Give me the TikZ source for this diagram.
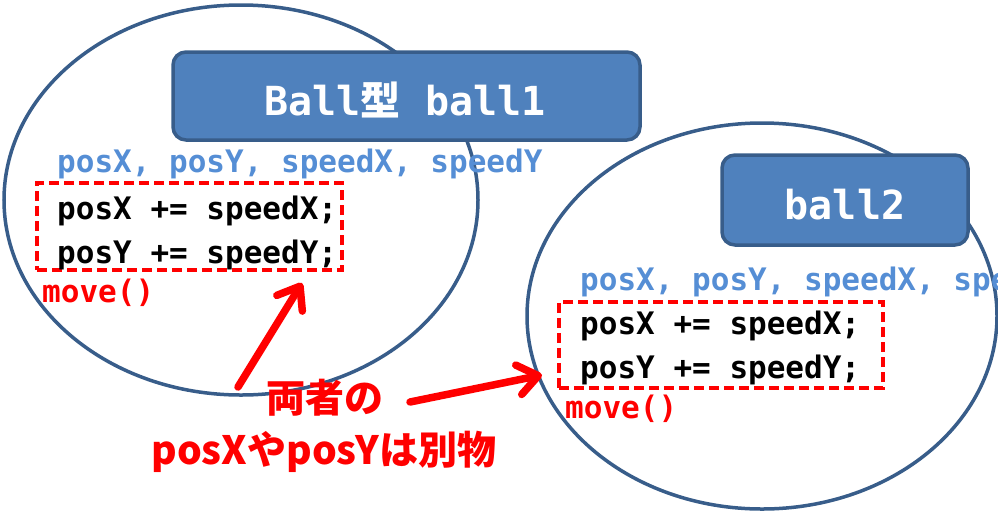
\documentclass[tikz,border=0pt]{standalone}
\usepackage{fontspec}
\newfontfamily\mono{DejaVu Sans Mono}
\newfontfamily\cjk{Noto Sans CJK JP}
\usetikzlibrary{shapes.geometric,arrows.meta}
\definecolor{objline}{HTML}{385D8A}
\definecolor{boxfill}{HTML}{4F81BD}
\definecolor{fieldblue}{HTML}{558ED5}
\definecolor{alertred}{HTML}{FF0000}
\begin{document}
\begin{tikzpicture}[x=1pt,y=-1pt,
  objshape/.style={ellipse, draw=objline, line width=3.5pt, inner sep=0pt},
  namebox/.style={rectangle, rounded corners=13pt, draw=objline, line width=3.5pt,
    fill=boxfill, inner sep=0pt},
  nametext/.style={text=white, font=\mono\bfseries\fontsize{40}{44}\selectfont,
    inner sep=0pt, anchor=base},
  fields/.style={text=fieldblue, font=\mono\bfseries\fontsize{31}{36}\selectfont,
    inner sep=0pt, anchor=base west},
  code/.style={text=black, font=\mono\bfseries\fontsize{31}{36}\selectfont,
    inner sep=0pt, anchor=base west},
  method/.style={text=alertred, font=\mono\bfseries\fontsize{31}{36}\selectfont,
    inner sep=0pt, anchor=base west},
  methodframe/.style={rectangle, draw=alertred, line width=3.5pt,
    dash pattern=on 10pt off 5pt, inner sep=0pt},
  note/.style={text=alertred, font=\cjk\bfseries\fontsize{39}{48}\selectfont,
    inner sep=0pt, anchor=base},
  pointer/.style={draw=alertred, line width=7.5pt, line cap=round,
    -{Straight Barb[round, length=20pt, width=30pt]}}
]
\useasboundingbox (0,0) rectangle (998,512);

% object ball1
\node[objshape, minimum width=474, minimum height=390] (obj1) at (241,200) {};
\node[namebox, minimum width=467, minimum height=88] (name1) at (406.5,96) {};
\node[nametext] (title1) at (405,115) {Ball{\cjk 型}{} ball1};
\node[fields] (fields1) at (57,172) {posX, posY, speedX, speedY};
\node[methodframe, minimum width=305, minimum height=87] (frame1) at (189.5,226.5) {};
\node[code] (code1a) at (57,219) {posX += speedX;};
\node[code] (code1b) at (57,263) {posY += speedY;};
\node[method] (move1) at (42,302) {move()};

% object ball2 (its field list runs past the right edge)
\node[objshape, minimum width=470, minimum height=386] (obj2) at (762,316) {};
\node[namebox, minimum width=246, minimum height=90] (name2) at (845,200) {};
\node[nametext] (title2) at (845,219) {ball2};
\node[fields] (fields2) at (580,290) {posX, posY, speedX, speedY};
\node[methodframe, minimum width=324, minimum height=86] (frame2) at (721,345) {};
\node[code] (code2a) at (580,334) {posX += speedX;};
\node[code] (code2b) at (580,378) {posY += speedY;};
\node[method] (move2) at (565,418) {move()};

% note with pointers
\node[note] (note1) at (325,412) {両者の};
\node[note] (note2) at (324,464) {posXやposYは別物};
\coordinate (p1s) at (238,387);
\coordinate (p1e) at (302,283);
\coordinate (p2s) at (410,402);
\coordinate (p2e) at (542,375);
\draw[pointer] (p1s) -- (p1e);
\draw[pointer] (p2s) -- (p2e);
\end{tikzpicture}
\end{document}
